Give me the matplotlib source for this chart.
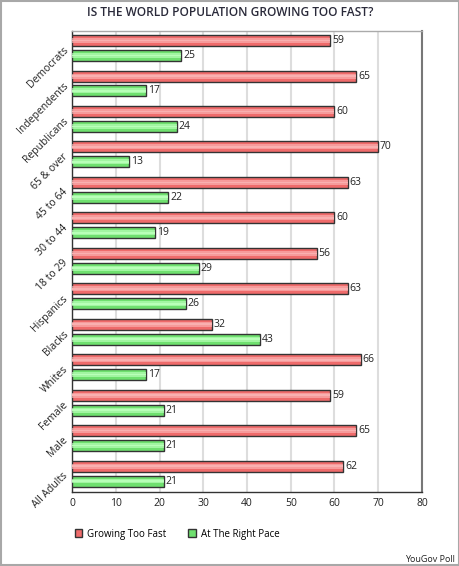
import matplotlib.pyplot as plt
from matplotlib.patches import Rectangle

## data
groups = ["Democrats", "Independents", "Republicans", "65 & over", "45 to 64",
          "30 to 44", "18 to 29", "Hispanics", "Blacks", "Whites",
          "Female", "Male", "All Adults"]
too_fast = [59, 65, 60, 70, 63, 60, 56, 63, 32, 66, 59, 65, 62]
right_pace = [25, 17, 24, 13, 22, 19, 29, 26, 43, 17, 21, 21, 21]
xticks = [0, 10, 20, 30, 40, 50, 60, 70, 80]

# plot parameters
barH = 0.31
redOff = -0.23
greenOff = 0.19
red = "#ef6b6b"
redLight = "#f9b0b0"
green = "#6fe06f"
greenLight = "#b8ffb8"
textCol = "#222222"
font = "Open Sans"


def shaded_bars(ax, ypos, vals, base, light, label):
	# base bar plus lighter stripes to fake the gradient
	ax.barh(ypos, vals, height=barH, color=base, edgecolor="#333333", linewidth=1.0, label=label, zorder=3)
	ax.barh(ypos, vals, height=barH * 0.45, color=light, linewidth=0, alpha=0.7, zorder=4)
	ax.barh(ypos, vals, height=barH * 0.15, color=light, linewidth=0, zorder=4)


fig = plt.figure(figsize=(4.6, 5.66), dpi=100)
fig.patches.append(Rectangle((0.002, 0.002), 0.996, 0.996, transform=fig.transFigure,
                             fill=False, edgecolor="#a8a8a8", linewidth=1.5))
ax = fig.add_axes([72 / 460, 1 - 492 / 566, 350 / 460, 461 / 566])

idx = list(range(len(groups)))
shaded_bars(ax, [i + redOff for i in idx], too_fast, red, redLight, "Growing Too Fast")
shaded_bars(ax, [i + greenOff for i in idx], right_pace, green, greenLight, "At The Right Pace")

for i in idx:
	ax.text(too_fast[i] + 0.4, i + redOff, str(too_fast[i]), va="center", ha="left",
	        fontsize=7.5, color=textCol, family=font, zorder=5)
	ax.text(right_pace[i] + 0.4, i + greenOff, str(right_pace[i]), va="center", ha="left",
	        fontsize=7.5, color=textCol, family=font, zorder=5)

ax.set_xlim(0, 80)
ax.set_ylim(len(groups) - 0.5, -0.5)
ax.set_xticks(xticks)
ax.set_xticklabels([str(x) for x in xticks], fontsize=7.5, color=textCol, family=font)
ax.set_yticks(idx)
ax.set_yticklabels(groups, fontsize=7.5, color=textCol, family=font,
                   rotation=45, ha="right", va="center", rotation_mode="anchor")
ax.tick_params(axis="both", length=0, pad=4)
ax.grid(axis="x", color="#dddddd", linewidth=1.5, zorder=0)
ax.set_axisbelow(True)
for side in ["left", "bottom"]:
	ax.spines[side].set_color("#333333")
	ax.spines[side].set_linewidth(1.0)
ax.spines["right"].set_color("#777777")
ax.spines["right"].set_linewidth(1.5)
ax.spines["top"].set_color("#aaaaaa")
ax.spines["top"].set_linewidth(1.0)

fig.text(230 / 460, 1 - 12 / 566, "IS THE WORLD POPULATION GROWING TOO FAST?", ha="center", va="center",
         fontsize=8.6, fontweight="semibold", color="#2a2a3a", family=font)

handles, labels = ax.get_legend_handles_labels()
fig.legend(handles, labels, loc="center", bbox_to_anchor=(177 / 460, 1 - 534 / 566), ncol=2,
           frameon=False, handlelength=0.8, handleheight=0.8, columnspacing=2.2,
           handletextpad=0.5, prop={"family": font, "size": 7})

fig.text(455 / 460, 1 - 559 / 566, "YouGov Poll", ha="right", va="center",
         fontsize=6.5, color=textCol, family=font)

fig.savefig("out.png", dpi=100)
